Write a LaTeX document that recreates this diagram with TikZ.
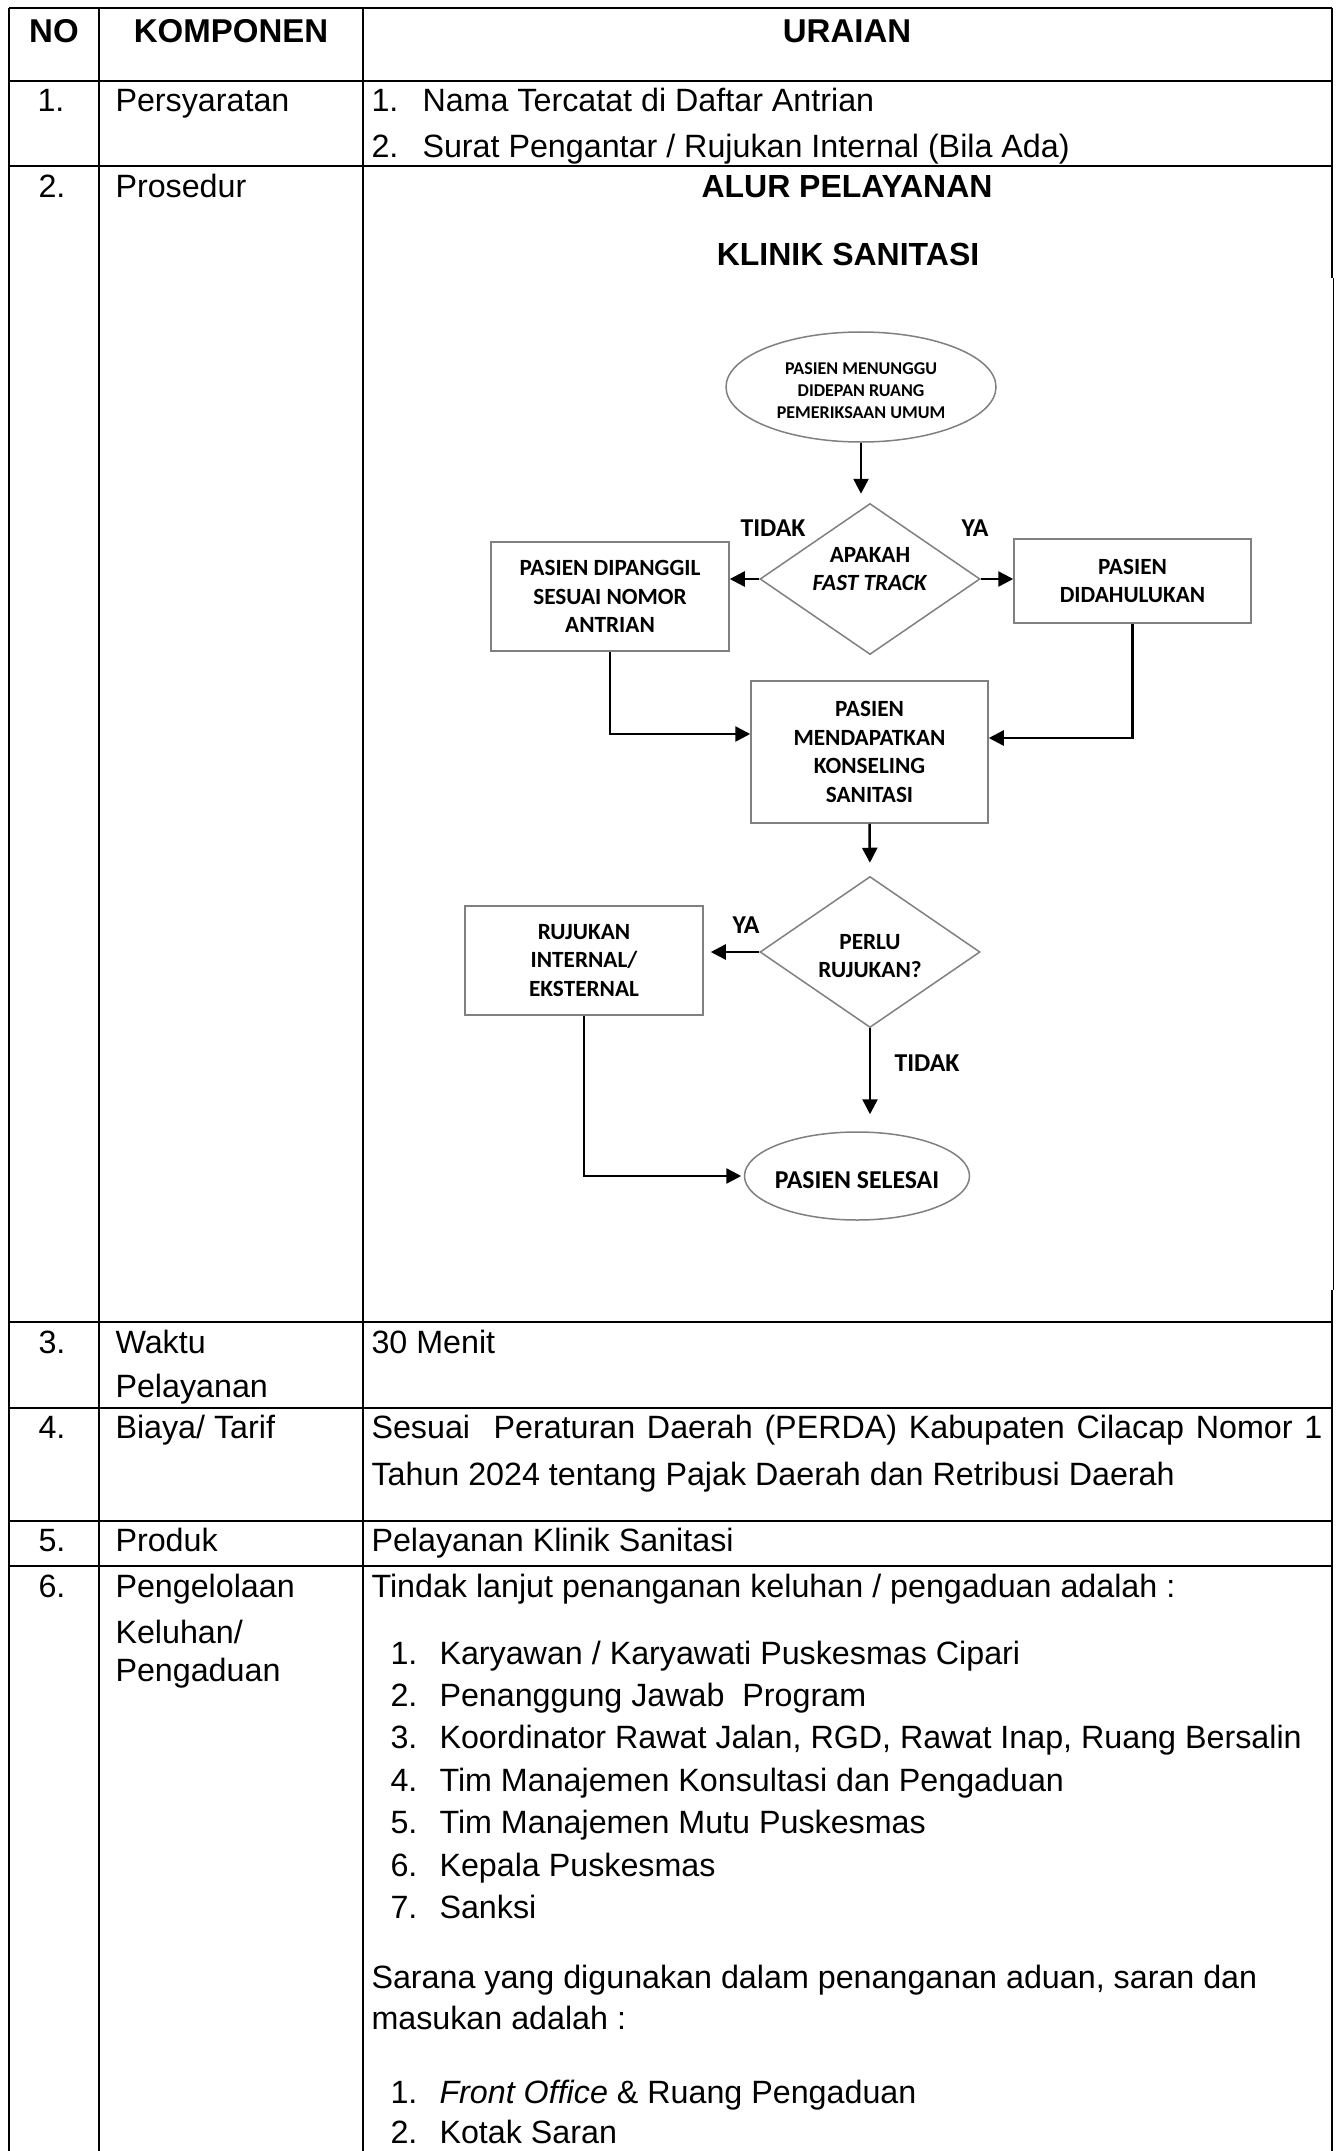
\documentclass[tikz,border=0pt]{standalone}
\usepackage{fontspec}
\setmainfont{Liberation Sans}
\newfontfamily\flowfont{Carlito}
\usetikzlibrary{shapes.geometric,arrows.meta,calc}
\begin{document}
\begin{tikzpicture}[x=0.4pt,y=-0.4pt,
  tline/.style={line width=0.85pt},
  thinline/.style={line width=0.4pt},
  body/.style={font=\fontsize{12.9}{15}\selectfont, inner sep=0pt, anchor=base west},
  num/.style={font=\fontsize{12.9}{15}\selectfont, inner sep=0pt, anchor=base},
  hd/.style={font=\bfseries\fontsize{13.2}{16}\selectfont, inner sep=0pt, anchor=base},
  ttl/.style={font=\bfseries\fontsize{12.8}{15}\selectfont, inner sep=0pt, anchor=base},
  fbox/.style={draw=black!50, line width=0.6pt, rectangle, inner sep=0pt, align=center,
    font=\flowfont\bfseries\fontsize{9.3}{11.4}\selectfont},
  fdia/.style={draw=black!50, line width=0.6pt, diamond, inner sep=0pt,
    minimum width=88pt, minimum height=60.4pt},
  fell/.style={draw=black!50, line width=0.6pt, ellipse, inner sep=0pt},
  ftxt/.style={inner sep=0pt, align=center, font=\flowfont\bfseries\fontsize{9.3}{11.4}\selectfont},
  lab/.style={inner sep=0pt, font=\flowfont\bfseries\fontsize{10.3}{12}\selectfont},
  arr/.style={line width=1pt, -{Triangle[length=6pt,width=6pt]}}
]
\useasboundingbox (0,0) rectangle (1342,2151);
\fill[white] (0,0) rectangle (1342,2151);

% ---------- table grid ----------
\draw[line width=0.95pt] (9,8) -- (1332,8);
\foreach \yy in {81,166,1322,1408,1521,1566}
  \draw[tline] (9,\yy) -- (1332,\yy);
\draw[tline] (9,8) -- (9,2151);
\draw[tline] (99,8) -- (99,2151);
\draw[tline] (363,8) -- (363,2151);
\draw[tline] (1332,8) -- (1332,278);
\draw[thinline] (1333,278) -- (1333,1290);
\draw[tline] (1332,1290) -- (1332,2151);

% ---------- header ----------
\node[hd] (hno) at (54,43) {NO};
\node[hd] (hkomp) at (231,43) {KOMPONEN};
\node[hd] (hur) at (847,43) {URAIAN};

% ---------- row 1 ----------
\node[num] (n1) at (51,112) {1.};
\node[body] (k1) at (115,112) {Persyaratan};
\node[body] (r1a) at (371,112) {1.};
\node[body] (r1at) at (422,112) {Nama Tercatat di Daftar Antrian};
\node[body] (r1b) at (371,158) {2.};
\node[body] (r1bt) at (422,158) {Surat Pengantar / Rujukan Internal (Bila Ada)};

% ---------- row 2 ----------
\node[num] (n2) at (52,198) {2.};
\node[body] (k2) at (115,198) {Prosedur};
\node[ttl] (t1) at (847,198) {ALUR PELAYANAN};
\node[ttl] (t2) at (848,266) {KLINIK SANITASI};

% ---------- flowchart ----------
\node[fell, minimum width=108pt, minimum height=44pt] (e1) at (861,387) {};
\node[ftxt, font=\flowfont\bfseries\fontsize{7.2}{8.8}\selectfont] (e1t) at (861,391)
  {PASIEN MENUNGGU\\DIDEPAN RUANG\\PEMERIKSAAN UMUM};

\node[fdia] (d1) at (870,579) {};
\node[ftxt] (d1t) at (870,569) {APAKAH\\\textit{FAST TRACK}};

\node[fbox, minimum width=95.2pt, minimum height=43.6pt] (lb) at (610,596.5)
  {PASIEN DIPANGGIL\\SESUAI NOMOR\\ANTRIAN};
\node[fbox, minimum width=94.8pt, minimum height=33.6pt] (rb) at (1132.5,581)
  {PASIEN\\DIDAHULUKAN};
\node[fbox, minimum width=94.8pt, minimum height=56.8pt] (mb) at (869.5,752)
  {PASIEN\\MENDAPATKAN\\KONSELING\\SANITASI};

\node[fdia] (d2) at (870,952) {};
\node[ftxt] (d2t) at (870,956) {PERLU\\RUJUKAN?};

\node[fbox, minimum width=95.2pt, minimum height=43.6pt] (rj) at (584,960.5)
  {RUJUKAN\\INTERNAL/\\EKSTERNAL};

\node[fell, minimum width=90pt, minimum height=35.2pt] (e2) at (857,1176) {};
\node[ftxt, font=\flowfont\bfseries\fontsize{10.3}{12}\selectfont] (e2t) at (857,1180) {PASIEN SELESAI};

\node[lab] (l1) at (773,528) {TIDAK};
\node[lab] (l2) at (975,528) {YA};
\node[lab] (l3) at (746,925) {YA};
\node[lab] (l4) at (927,1063) {TIDAK};

\draw[arr, shorten >=3.6pt] (e1.south) -- (e1.south |- d1.north);
\draw[arr] (d1.west) -- (d1.west -| lb.east);
\draw[arr] (d1.east) -- (d1.east -| rb.west);
\draw[arr] (lb.south) |- ([yshift=7.2pt]mb.west);
\draw[arr] (rb.south) |- ([yshift=5.6pt]mb.east);
\draw[arr, shorten >=5.2pt] (mb.south) -- (d2.north);
\draw[arr, shorten >=2.8pt] (d2.west) -- (d2.west -| rj.east);
\draw[arr, shorten >=6.8pt] (d2.south) -- (d2.south |- e2.north);
\draw[arr, shorten >=1pt] (rj.south) |- (e2.west);

% ---------- row 3 ----------
\node[num] (n3) at (52,1353) {3.};
\node[body] (k3a) at (115,1353) {Waktu};
\node[body] (k3b) at (115,1397) {Pelayanan};
\node[body] (r3) at (371,1353) {30 Menit};

% ---------- row 4 ----------
\node[num] (n4) at (52,1438) {4.};
\node[body] (k4) at (115,1438) {Biaya/ Tarif};
\node[body] (r4a) at (371,1438) {\hbox to 380.4pt{Sesuai\ \ Peraturan Daerah (PERDA) Kabupaten Cilacap Nomor 1}};
\node[body] (r4b) at (371,1485) {Tahun 2024 tentang Pajak Daerah dan Retribusi Daerah};

% ---------- row 5 ----------
\node[num] (n5) at (52,1551) {5.};
\node[body] (k5) at (115,1551) {Produk};
\node[body] (r5) at (371,1551) {Pelayanan Klinik Sanitasi};

% ---------- row 6 ----------
\node[num] (n6) at (52,1597) {6.};
\node[body] (k6a) at (115,1597) {Pengelolaan};
\node[body] (k6b) at (115,1643) {Keluhan/};
\node[body] (k6c) at (115,1681) {Pengaduan};
\node[body] (r6) at (371,1597) {Tindak lanjut penanganan keluhan / pengaduan adalah :};
\foreach \i/\t [count=\c from 0] in {1/{Karyawan / Karyawati Puskesmas Cipari},
  2/{Penanggung Jawab\ \ Program},
  3/{Koordinator Rawat Jalan, RGD, Rawat Inap, Ruang Bersalin},
  4/{Tim Manajemen Konsultasi dan Pengaduan},
  5/{Tim Manajemen Mutu Puskesmas},
  6/{Kepala Puskesmas},
  7/{Sanksi}}{
  \node[body] (li\i) at (390,1664+42.4*\c) {\i.};
  \node[body] (lt\i) at (439,1664+42.4*\c) {\t};
}
\node[body] (s1) at (371,1988) {Sarana yang digunakan dalam penanganan aduan, saran dan};
\node[body] (s2) at (371,2029) {masukan adalah :};
\node[body] (m1) at (390,2103) {1.};
\node[body] (m1t) at (439,2103) {\textit{Front Office} \& Ruang Pengaduan};
\node[body] (m2) at (390,2143) {2.};
\node[body] (m2t) at (439,2143) {Kotak Saran};
\end{tikzpicture}
\end{document}
